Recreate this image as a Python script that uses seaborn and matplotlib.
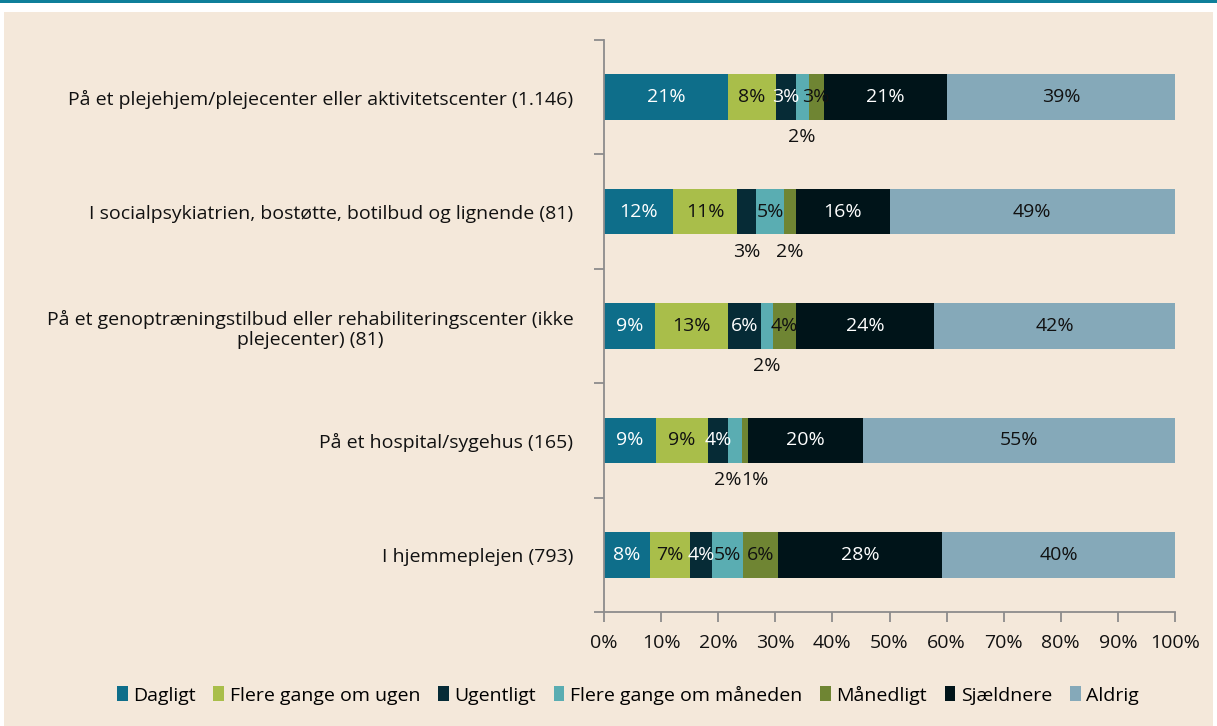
import numpy as np
import pandas as pd
import seaborn as sns
import matplotlib.pyplot as plt
from matplotlib.patches import Patch, Rectangle

# categories (top to bottom)
categories = [
    "På et plejehjem/plejecenter eller aktivitetscenter (1.146)",
    "I socialpsykiatrien, bostøtte, botilbud og lignende (81)",
    "På et genoptræningstilbud eller rehabiliteringscenter (ikke\nplejecenter) (81)",
    "På et hospital/sygehus (165)",
    "I hjemmeplejen (793)",
]
series = ["Dagligt", "Flere gange om ugen", "Ugentligt", "Flere gange om måneden",
          "Månedligt", "Sjældnere", "Aldrig"]

dagligt = [21.4, 12.0, 8.9, 9.1, 7.9]
flere_uge = [8.4, 11.0, 12.8, 9.1, 7.0]
ugentligt = [3.4, 3.3, 5.8, 3.6, 3.7]
flere_maaned = [2.2, 4.9, 2.1, 2.3, 5.4]
maanedligt = [2.6, 2.0, 4.0, 1.2, 6.1]
sjaeldnere = [21.4, 16.2, 24.2, 20.1, 28.4]
aldrig = [39.4, 49.4, 42.2, 54.6, 40.2]

colors = ["#0E6E8A", "#A9BE4A", "#062B36", "#5AADB2", "#6F8533", "#001419", "#85A9B9"]
text_colors = ["white", "#111111", "white", "#111111", "#111111", "white", "#111111"]

# labels that sit below the bar: (row, segment, alignment)
below = [(0, 3, "center"), (1, 2, "center"), (1, 4, "center"), (2, 3, "center"),
         (3, 3, "right"), (3, 4, "left")]

df = pd.DataFrame(np.array([dagligt, flere_uge, ugentligt, flere_maaned,
                            maanedligt, sjaeldnere, aldrig]).T,
                  columns=series, index=categories)
shares = df.div(df.sum(axis=1), axis=0)
cum = shares.cumsum(axis=1)

plt.rcParams["font.family"] = ["Open Sans", "DejaVu Sans"]
bg = "#F4E8DA"
fs = 14

fig = plt.figure(figsize=(12.17, 7.26), dpi=100)
fig.patch.set_facecolor("white")
fig.add_artist(Rectangle((4 / 1217, 0), 1209 / 1217, 714 / 726, transform=fig.transFigure,
                         facecolor=bg, edgecolor="none", zorder=0))
fig.add_artist(Rectangle((0, 723 / 726), 1, 3 / 726, transform=fig.transFigure,
                         facecolor="#0E7F9A", edgecolor="none", zorder=0))

ax = fig.add_axes([604 / 1217, 1 - 612 / 726, 571 / 1217, 572 / 726])
ax.set_facecolor("none")

# stacked bars: draw cumulative totals from the longest down
for i in reversed(range(len(series))):
    sns.barplot(x=cum.iloc[:, i].values, y=categories, color=colors[i], orient="h",
                width=0.4, saturation=1, linewidth=0, ax=ax)

ax.set_xlim(0, 1)
ax.set_ylim(4.5, -0.5)
ax.set_xticks(np.linspace(0, 1, 11))
ax.set_xticklabels([f"{int(round(t * 100))}%" for t in np.linspace(0, 1, 11)], fontsize=fs)
ax.set_yticks(range(len(categories)))
ax.set_yticklabels(categories, fontsize=fs, multialignment="center", color="#111111")
ax.tick_params(axis="y", length=0, pad=22)
ax.set_yticks(np.arange(-0.5, 4.6, 1.0), minor=True)
ax.tick_params(axis="y", which="minor", length=7, color="#8C8C8C", width=1.3)
ax.tick_params(axis="x", length=7, color="#8C8C8C", width=1.3, pad=9, labelcolor="#111111")
ax.set_xlabel("")
ax.set_ylabel("")
for s in ["top", "right"]:
    ax.spines[s].set_visible(False)
for s in ["left", "bottom"]:
    ax.spines[s].set_color("#8C8C8C")
    ax.spines[s].set_linewidth(1.3)

below_map = {(r, s): ha for r, s, ha in below}
for r in range(len(categories)):
    for s in range(len(series)):
        start = cum.iloc[r, s] - shares.iloc[r, s]
        mid = start + shares.iloc[r, s] / 2
        label = f"{df.iloc[r, s]:.0f}%"
        if (r, s) in below_map:
            ha = below_map[(r, s)]
            x = mid if ha == "center" else (cum.iloc[r, s] if ha == "right" else start)
            ax.text(x, r + 0.35, label, ha=ha, va="center", fontsize=fs, color="#111111")
        else:
            ax.text(mid, r, label, ha="center", va="center", fontsize=fs, color=text_colors[s])

handles = [Patch(facecolor=c, edgecolor="none") for c in colors]
fig.legend(handles, series, loc="center", bbox_to_anchor=(0.516, 1 - 695 / 726), ncol=7,
           frameon=False, fontsize=fs, handlelength=0.55, handleheight=0.8,
           handletextpad=0.3, columnspacing=0.9)

fig.savefig("out.png", dpi=100, facecolor=fig.get_facecolor())
